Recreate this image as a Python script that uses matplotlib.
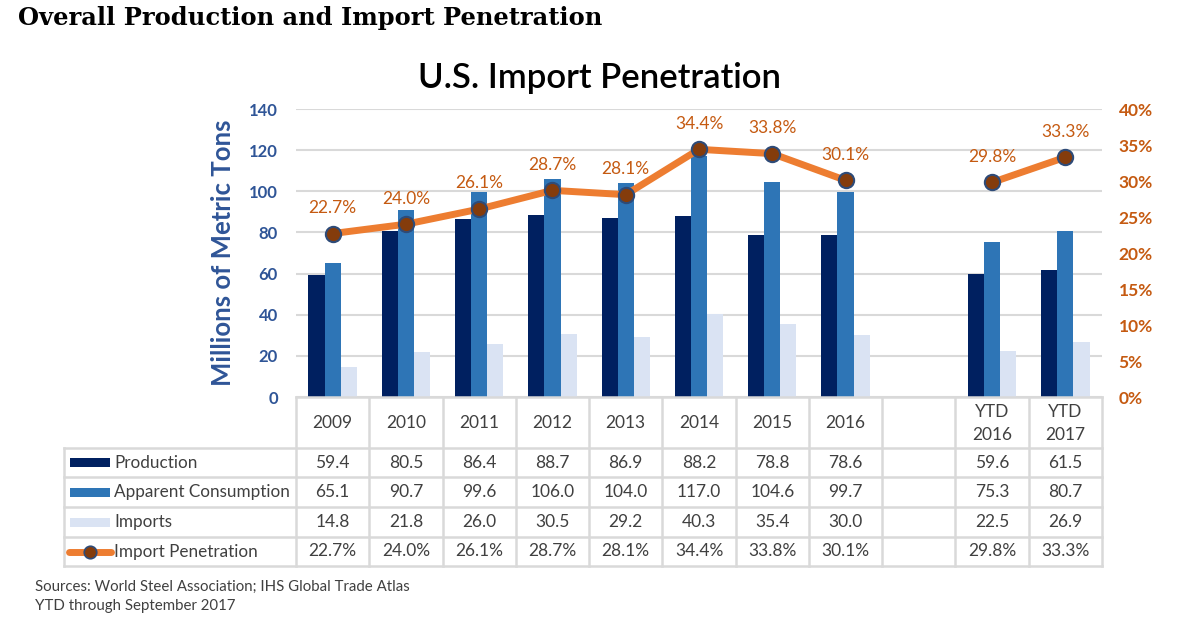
import numpy as np
import matplotlib.pyplot as plt
from matplotlib.patches import Rectangle

plt.rcParams['font.family'] = ['Lato', 'DejaVu Sans']

# data (index 8 is the empty spacer column)
categories = ['2009', '2010', '2011', '2012', '2013', '2014', '2015', '2016', '', 'YTD\n2016', 'YTD\n2017']
production = [59.4, 80.5, 86.4, 88.7, 86.9, 88.2, 78.8, 78.6, np.nan, 59.6, 61.5]
consumption = [65.1, 90.7, 99.6, 106.0, 104.0, 117.0, 104.6, 99.7, np.nan, 75.3, 80.7]
imports = [14.8, 21.8, 26.0, 30.5, 29.2, 40.3, 35.4, 30.0, np.nan, 22.5, 26.9]
penetration = [22.7, 24.0, 26.1, 28.7, 28.1, 34.4, 33.8, 30.1, np.nan, 29.8, 33.3]
row_names = ['Production', 'Apparent Consumption', 'Imports', 'Import Penetration']

c_prod = '#002060'
c_cons = '#2E75B6'
c_imp = '#DAE3F3'
c_line = '#ED7D31'
c_mark = '#843C0C'
c_blue = '#2F5597'
c_orange = '#C55A11'
c_grid = '#D9D9D9'
c_text = '#404040'

W, H = 1188, 626
fig = plt.figure(figsize=(W / 100, H / 100), dpi=100)

# pixel layout
x0, x1 = 296, 1102
y_top, y_zero = 109, 397
ax = fig.add_axes([x0 / W, 1 - y_zero / H, (x1 - x0) / W, (y_zero - y_top) / H])

x = np.arange(len(categories))
bw = 0.22
ax.bar(x - bw, production, bw, color=c_prod, zorder=2)
ax.bar(x, consumption, bw, color=c_cons, zorder=2)
ax.bar(x + bw, imports, bw, color=c_imp, zorder=2)

ax.set_xlim(-0.5, len(categories) - 0.5)
ax.set_ylim(0, 140)
ax.set_yticks(np.arange(0, 141, 20))
ax.set_xticks([])
ax.grid(axis='y', color=c_grid, lw=1.5, zorder=0)
for s in ax.spines.values():
    s.set_visible(False)
ax.tick_params(axis='y', length=0, pad=13, labelsize=12, labelcolor=c_blue)
for t in ax.get_yticklabels():
    t.set_fontweight('bold')
ax.set_ylabel('Millions of Metric Tons', fontsize=18.5, fontweight='bold', color=c_blue, labelpad=10)

ax2 = ax.twinx()
ax2.set_ylim(0, 40)
ax2.set_yticks(np.arange(0, 41, 5))
ax2.set_yticklabels([f'{v}%' for v in range(0, 41, 5)])
ax2.tick_params(axis='y', length=0, pad=12, labelsize=12.5, labelcolor=c_orange)
for t in ax2.get_yticklabels():
    t.set_fontweight('bold')
for s in ax2.spines.values():
    s.set_visible(False)
ax2.plot(x, penetration, color=c_line, lw=5, marker='o', ms=11,
         mfc=c_mark, mec='#2E4B78', mew=1.5, zorder=3, solid_capstyle='round')
for xi, p in zip(x, penetration):
    if not np.isnan(p):
        ax2.annotate(f'{p:.1f}%', (xi, p), xytext=(0, 18.5), textcoords='offset points',
                     ha='center', va='center', fontsize=12.5, color=c_orange)

fig.text(600 / W, 1 - 78 / H, 'U.S. Import Penetration', ha='center', va='center',
         fontsize=25, fontweight='semibold', color='black')
fig.text(18 / W, 1 - 18 / H, 'Overall Production and Import Penetration', ha='left', va='center',
         fontsize=17.4, fontweight='bold', family='DejaVu Serif', color='black')

# data table drawn underneath in pixel coordinates
tax = fig.add_axes([0, 0, 1, 1])
tax.set_xlim(0, W)
tax.set_ylim(H, 0)
tax.axis('off')

col_edges = x0 + np.arange(len(categories) + 1) * (x1 - x0) / len(categories)
row_edges = [397, 448, 477, 507, 537, 566]
left_edge = 64
lw_tab = 1.8

tax.plot([x0, x1], [row_edges[0], row_edges[0]], color=c_grid, lw=lw_tab)
for yy in row_edges[1:]:
    tax.plot([left_edge, x1], [yy, yy], color=c_grid, lw=lw_tab)
for xe in col_edges:
    tax.plot([xe, xe], [row_edges[0], row_edges[-1]], color=c_grid, lw=lw_tab)
tax.plot([left_edge, left_edge], [row_edges[1], row_edges[-1]], color=c_grid, lw=lw_tab)

centers = (col_edges[:-1] + col_edges[1:]) / 2
hdr_y = (row_edges[0] + row_edges[1]) / 2
for cx, lab in zip(centers, categories):
    tax.text(cx, hdr_y + 1, lab, ha='center', va='center', fontsize=12.5, color=c_text, linespacing=1.5)

rows = [production, consumption, imports, penetration]
fmts = ['{:.1f}', '{:.1f}', '{:.1f}', '{:.1f}%']
row_cols = [c_prod, c_cons, c_imp]
for r, (vals, fmt, name) in enumerate(zip(rows, fmts, row_names)):
    cy = (row_edges[r + 1] + row_edges[r + 2]) / 2
    for cx, v in zip(centers, vals):
        if not np.isnan(v):
            tax.text(cx, cy, fmt.format(v), ha='center', va='center', fontsize=12.5, color=c_text)
    if r < 3:
        tax.add_patch(Rectangle((70, cy - 4.5), 40, 9, color=row_cols[r], lw=0))
    else:
        tax.plot([69, 111], [cy, cy], color=c_line, lw=5, solid_capstyle='round')
        tax.plot([90], [cy], marker='o', ms=9, mfc=c_mark, mec='#2E4B78', mew=1.2)
    tax.text(114, cy, name, ha='left', va='center', fontsize=12.3, color=c_text)

fig.text(35 / W, 1 - 587 / H, 'Sources: World Steel Association; IHS Global Trade Atlas',
         ha='left', va='center', fontsize=10.8, color=c_text)
fig.text(35 / W, 1 - 606 / H, 'YTD through September 2017',
         ha='left', va='center', fontsize=10.8, color=c_text)

fig.savefig('out.png', dpi=100)
